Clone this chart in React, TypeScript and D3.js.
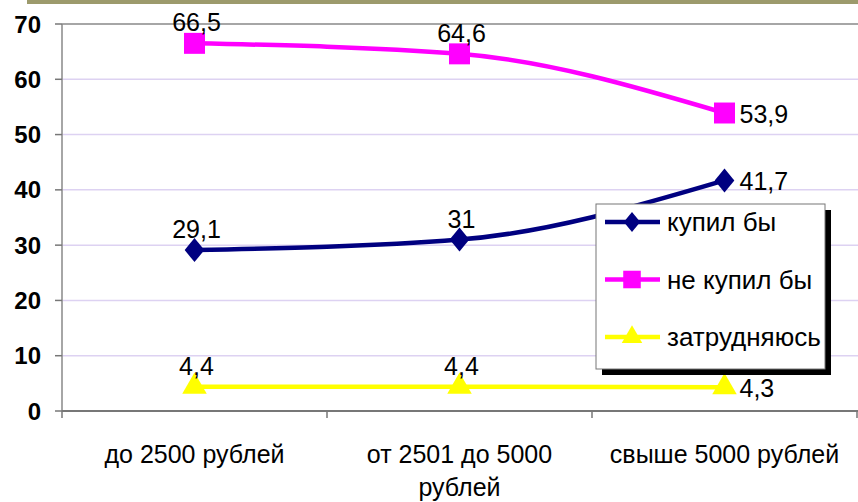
import React from 'react'
import { scaleLinear, scaleBand, line, curveMonotoneX, symbol, symbolSquare, symbolTriangle } from 'd3'

const categories: string[][] = [['до 2500 рублей'], ['от 2501 до 5000', 'рублей'], ['свыше 5000 рублей']]
const kupil: number[] = [29.1, 31, 41.7]
const neKupil: number[] = [66.5, 64.6, 53.9]
const zatrud: number[] = [4.4, 4.4, 4.3]
const seriesNames: string[] = ['купил бы', 'не купил бы', 'затрудняюсь']
const yTicks: number[] = [0, 10, 20, 30, 40, 50, 60, 70]

const W = 858, H = 502
const left = 62, right = 857, top = 24, bottom = 411
const FONT = "'Liberation Sans', Arial, sans-serif"

// label placement per point: 'top' or 'right'
const placements: string[][] = [
  ['top', 'top', 'right'],
  ['top', 'top', 'right'],
  ['top', 'top', 'right'],
]

// Excel style diamond, a bit wider than d3's
const wideDiamond = {
  draw(ctx: any, size: number) {
    const h = Math.sqrt(size * 0.6)
    const w = h * 0.82
    ctx.moveTo(0, -h)
    ctx.lineTo(w, 0)
    ctx.lineTo(0, h)
    ctx.lineTo(-w, 0)
    ctx.closePath()
  },
}

export default function App() {
  const x = scaleBand<number>().domain([0, 1, 2]).range([left, right])
  const y = scaleLinear().domain([0, 70]).range([bottom, top])
  const cx = (i: number) => (x(i) ?? 0) + x.bandwidth() / 2

  const gen = line<number>()
    .x((_, i) => cx(i))
    .y(d => y(d))
    .curve(curveMonotoneX)

  const series = [
    { name: seriesNames[0], values: kupil, color: '#000080', shape: wideDiamond, size: 240 },
    { name: seriesNames[1], values: neKupil, color: '#ff00ff', shape: symbolSquare, size: 440 },
    { name: seriesNames[2], values: zatrud, color: '#ffff00', shape: symbolTriangle, size: 260 },
  ]

  const fmt = (v: number) => String(v).replace('.', ',')

  const legX = 596, legY = 204, legW = 229, legH = 165

  return (
    <svg width={W} height={H} style={{ position: 'absolute', left: 0, top: 0, background: '#fff' }}>
      <rect x={27} y={0} width={W - 27} height={4} fill="#9c9a6c" />

      {yTicks.filter(t => t > 0 && t < 70).map(t => (
        <line key={t} x1={left} x2={W} y1={y(t)} y2={y(t)} stroke="#ddd2f2" strokeWidth={1.5} />
      ))}
      <line x1={left} x2={W} y1={y(70)} y2={y(70)} stroke="#888" strokeWidth={1.5} />
      <line x1={left} x2={left} y1={top} y2={bottom} stroke="#888" strokeWidth={1.5} />
      <line x1={left} x2={W} y1={bottom} y2={bottom} stroke="#777" strokeWidth={2} />

      {yTicks.map(t => (
        <g key={t}>
          <line x1={left - 7} x2={left} y1={y(t)} y2={y(t)} stroke="#777" strokeWidth={1.5} />
          <text x={41} y={y(t)} dy="0.36em" textAnchor="end" fontFamily={FONT} fontWeight="bold" fontSize={24} fill="#000">{t}</text>
        </g>
      ))}

      {[0, 1, 2, 3].map(i => (
        <line key={i} x1={left + i * x.bandwidth()} x2={left + i * x.bandwidth()} y1={bottom} y2={bottom + 7} stroke="#777" strokeWidth={1.5} />
      ))}

      {categories.map((lines, i) => (
        <text key={i} x={cx(i)} y={463} textAnchor="middle" fontFamily={FONT} fontSize={25} fill="#000">
          {lines.map((l, j) => (
            <tspan key={j} x={cx(i)} dy={j === 0 ? 0 : 33}>{l}</tspan>
          ))}
        </text>
      ))}

      {series.map(s => (
        <g key={s.name}>
          <path d={gen(s.values) ?? ''} fill="none" stroke={s.color} strokeWidth={4.5} />
          {s.values.map((v, i) => (
            <path key={i} d={symbol(s.shape as any, s.size)() ?? ''} transform={`translate(${cx(i)},${y(v)})`} fill={s.color} />
          ))}
        </g>
      ))}

      {series.map((s, si) => s.values.map((v, i) => {
        const p = placements[si][i]
        return p === 'top'
          ? <text key={`${si}-${i}`} x={cx(i) + 2} y={y(v) - 12} textAnchor="middle" fontFamily={FONT} fontSize={25} fill="#000">{fmt(v)}</text>
          : <text key={`${si}-${i}`} x={cx(i) + 15} y={y(v)} dy="0.4em" textAnchor="start" fontFamily={FONT} fontSize={25} fill="#000">{fmt(v)}</text>
      }))}

      <rect x={legX + 6} y={legY + 6} width={legW} height={legH} fill="#000" />
      <rect x={legX} y={legY} width={legW} height={legH} fill="#fff" stroke="#777" strokeWidth={1} />
      {series.map((s, i) => {
        const ly = legY + 18 + i * 57.5
        return (
          <g key={s.name}>
            <line x1={legX + 9} x2={legX + 64} y1={ly} y2={ly} stroke={s.color} strokeWidth={4.5} />
            <path d={symbol(s.shape as any, s.size * 0.7)() ?? ''} transform={`translate(${legX + 36},${ly})`} fill={s.color} />
            <text x={legX + 71} y={ly} dy="0.36em" fontFamily={FONT} fontSize={26} fill="#000">{s.name}</text>
          </g>
        )
      })}
    </svg>
  )
}
